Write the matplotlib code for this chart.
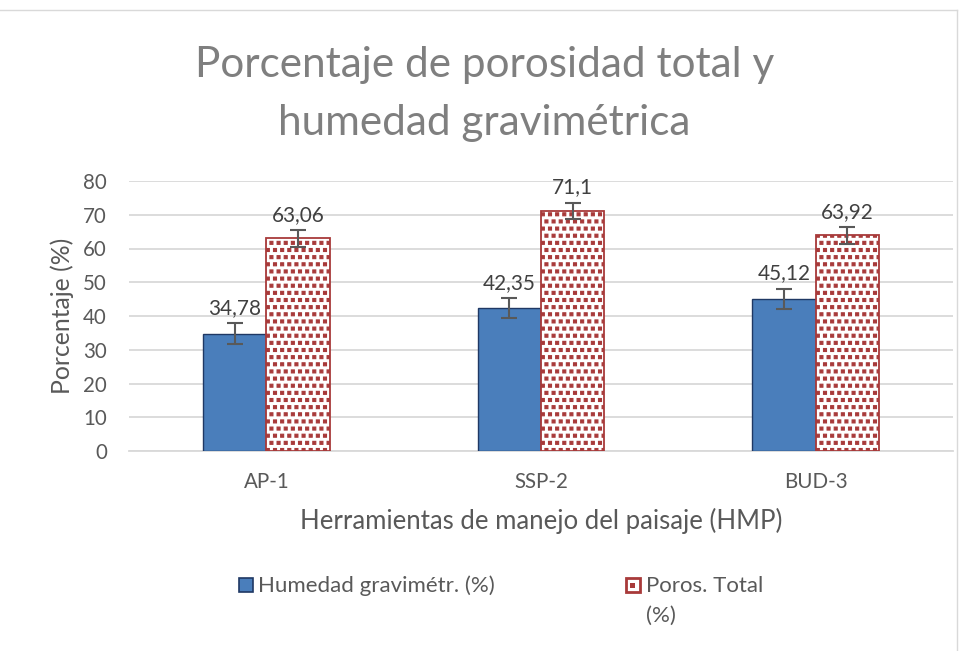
import matplotlib
matplotlib.use("Agg")
import matplotlib.pyplot as plt
import numpy as np
from matplotlib.patches import Rectangle
from matplotlib import hatch as mhatch
from matplotlib.path import Path

plt.rcParams['font.family'] = ['Lato', 'DejaVu Sans']
plt.rcParams['hatch.linewidth'] = 0.8


# "confetti"-like square dot hatch, used for the '.' hatch character
class SquareDots(mhatch.Shapes):
    size = 0.42
    filled = True

    def __init__(self, hatch, density):
        self.num_rows = hatch.count('.') * 7
        p = Path.unit_rectangle()
        self.shape_vertices = p.vertices - 0.5
        self.shape_codes = p.codes
        super().__init__(hatch, density)


mhatch._hatch_types[:] = [SquareDots if c is mhatch.SmallFilledCircles else c
                          for c in mhatch._hatch_types]

categories = ["AP-1", "SSP-2", "BUD-3"]
humedad = [34.78, 42.35, 45.12]
porosidad = [63.06, 71.1, 63.92]
hum_err = [3.0, 3.0, 3.0]
por_err = [2.5, 2.5, 2.5]
hum_labels = ["34,78", "42,35", "45,12"]
por_labels = ["63,06", "71,1", "63,92"]
yticks = [0, 10, 20, 30, 40, 50, 60, 70, 80]
series_names = ["Humedad gravimétr. (%)", "Poros. Total", "(%)"]

W, H = 969, 651
fig = plt.figure(figsize=(W/100, H/100), dpi=100)
ax = fig.add_axes([129/W, 1-451/H, 824/W, 270/H])


def fx(px):
    return px / W


def fy(py):
    return 1 - py / H


x = np.arange(len(categories))
bw = 0.23
blue = '#4A7EBB'
navy = '#1F3864'
red = '#A83A3A'
txt = '#595959'

ax.bar(x - bw/2, humedad, bw, color=blue, edgecolor=navy, linewidth=1.0, zorder=3)
ax.bar(x + bw/2, porosidad, bw, color='white', edgecolor=red, hatch='..', linewidth=1.3, zorder=3)
ax.errorbar(x - bw/2, humedad, yerr=hum_err, fmt='none', ecolor='#595959', elinewidth=1.5,
            capsize=5.5, capthick=1.5, zorder=4)
ax.errorbar(x + bw/2, porosidad, yerr=por_err, fmt='none', ecolor='#595959', elinewidth=1.5,
            capsize=5.5, capthick=1.5, zorder=4)

dlabels = []
for xs, vals, errs, labs in [(x - bw/2, humedad, hum_err, hum_labels),
                             (x + bw/2, porosidad, por_err, por_labels)]:
    for xi, v, e, l in zip(xs, vals, errs, labs):
        t = ax.annotate(l, xy=(xi, v + e), xytext=(0, 6.5), textcoords='offset points',
                        ha='center', va='baseline', fontsize=15, color='#404040', zorder=5)
        dlabels.append(t)

ax.set_xlim(-0.5, 2.5)
ax.set_ylim(0, 80)
ax.set_yticks(yticks)
ax.set_xticks(x)
ax.set_xticklabels(categories)
ax.tick_params(axis='x', length=0, labelsize=14, colors=txt, pad=15)
ax.tick_params(axis='y', length=0, labelsize=14, colors=txt, pad=16)
ax.grid(axis='y', color='#D9D9D9', linewidth=1.3, zorder=0)
for s in ['top', 'right', 'left']:
    ax.spines[s].set_visible(False)
ax.spines['bottom'].set_color('#D9D9D9')
ax.spines['bottom'].set_linewidth(1.3)

xl = ax.set_xlabel("Herramientas de manejo del paisaje (HMP)", fontsize=17, color=txt, va='center')
ax.xaxis.set_label_coords(0.5, (451 - 521) / 270)
yl = ax.set_ylabel("Porcentaje (%)", fontsize=17, color=txt, va='center')
ax.yaxis.set_label_coords((62 - 129) / 824, 0.5)

t1 = fig.text(0.5, fy(77), "Porcentaje de porosidad total y", ha='center', va='baseline',
              fontsize=30, color='#7F7F7F')
t2 = fig.text(0.5, fy(135), "humedad gravimétrica", ha='center', va='baseline',
              fontsize=30, color='#7F7F7F')

# legend (drawn in figure pixel positions)
fig.add_artist(Rectangle((fx(239), fy(592)), 14/W, 14/H, transform=fig.transFigure,
                         facecolor=blue, edgecolor=navy, linewidth=1.2))
fig.add_artist(Rectangle((fx(625.5), fy(592)), 14/W, 14/H, transform=fig.transFigure,
                         facecolor='white', edgecolor=red, linewidth=2.0))
fig.add_artist(Rectangle((fx(630), fy(587.5)), 5/W, 5/H, transform=fig.transFigure,
                         facecolor=red, edgecolor='none'))
lg1 = fig.text(fx(258), fy(592), series_names[0], ha='left', va='baseline', fontsize=16, color=txt)
lg2 = fig.text(fx(646), fy(592), series_names[1], ha='left', va='baseline', fontsize=16, color=txt)
lg3 = fig.text(fx(646), fy(622), series_names[2], ha='left', va='baseline', fontsize=16, color=txt)

# chart frame
fig.add_artist(plt.Line2D([0, fx(957)], [fy(10), fy(10)], transform=fig.transFigure,
                          color='#D9D9D9', linewidth=1))
fig.add_artist(plt.Line2D([fx(957), fx(957)], [fy(10), 0], transform=fig.transFigure,
                          color='#D9D9D9', linewidth=1))

# fit font sizes to measured text widths of the reference
fig.canvas.draw()
r = fig.canvas.get_renderer()


def scale_for(t, target, vertical=False):
    bb = t.get_window_extent(r)
    w = bb.height if vertical else bb.width
    return t.get_fontsize() * target / w


s = scale_for(t1, 578)
t1.set_fontsize(s)
t2.set_fontsize(s)
s = scale_for(lg1, 237)
for t in (lg1, lg2, lg3):
    t.set_fontsize(s)
xl.set_fontsize(scale_for(xl, 480))
yl.set_fontsize(scale_for(yl, 156, vertical=True))
s = scale_for(dlabels[0], 53)
for t in dlabels:
    t.set_fontsize(s)
yt = ax.get_yticklabels()[-1]
tick_size = scale_for(yt, 24)
ax.tick_params(axis='both', labelsize=tick_size)

fig.savefig("out.png", dpi=100)
